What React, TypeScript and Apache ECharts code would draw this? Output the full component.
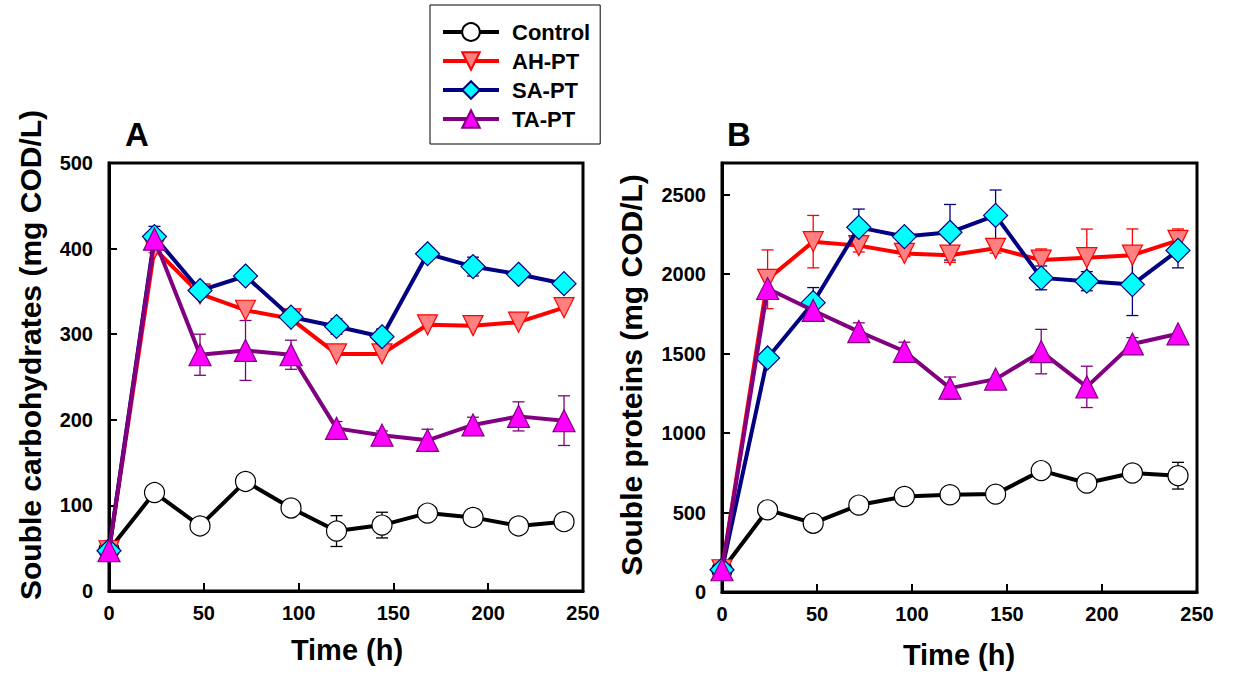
import React, { useEffect, useRef } from 'react';
import * as echarts from 'echarts';

const time = [0, 24, 48, 72, 96, 120, 144, 168, 192, 216, 240];

// Panel A: soluble carbohydrates (mg COD/L)
const ctrlA = [48, 115, 76, 128, 97, 70, 77, 91, 86, 76, 81];
const ctrlAErr = [0, 0, 0, 0, 0, 18, 15, 0, 0, 0, 0];
const ahA = [47, 400, 347, 328, 318, 277, 277, 311, 310, 314, 331];
const ahAErr = [0, 5, 0, 0, 0, 0, 0, 0, 0, 0, 0];
const saA = [47, 414, 351, 368, 320, 309, 297, 394, 379, 370, 359];
const saAErr = [0, 12, 0, 0, 0, 9, 9, 6, 11, 0, 0];
const taA = [47, 411, 276, 281, 276, 190, 182, 176, 194, 204, 199];
const taAErr = [0, 0, 24, 35, 17, 8, 5, 13, 9, 17, 29];

// Panel B: soluble proteins (mg COD/L)
const ctrlB = [137, 517, 433, 547, 601, 612, 616, 764, 686, 749, 732];
const ctrlBErr = [0, 0, 0, 20, 0, 0, 0, 0, 40, 0, 84];
const ahB = [140, 1968, 2205, 2180, 2131, 2120, 2163, 2089, 2104, 2120, 2213];
const ahBErr = [0, 185, 165, 40, 20, 45, 30, 70, 180, 165, 72];
const saB = [140, 1473, 1821, 2295, 2237, 2264, 2370, 1977, 1956, 1935, 2150];
const saBErr = [0, 0, 95, 115, 30, 175, 160, 75, 60, 195, 110];
const taB = [140, 1910, 1772, 1639, 1515, 1283, 1340, 1513, 1291, 1561, 1625];
const taBErr = [0, 0, 50, 55, 57, 70, 0, 140, 130, 40, 0];

const seriesNames = ['Control', 'AH-PT', 'SA-PT', 'TA-PT'];
const xTitle = 'Time (h)';
const yTitleA = 'Souble carbohydrates (mg COD/L)';
const yTitleB = 'Souble proteins (mg COD/L)';

const FONT = 'Arial, "Liberation Sans", Helvetica, sans-serif';

const styles = [
  { line: '#000000', fill: '#ffffff', border: '#000000', symbol: 'circle', size: 20, rotate: 0 },
  { line: '#ff0000', fill: '#ff8080', border: '#ff0000', symbol: 'triangle', size: 20, rotate: 180 },
  { line: '#000080', fill: '#00ffff', border: '#000080', symbol: 'diamond', size: 24, rotate: 0 },
  { line: '#800080', fill: '#ff00ff', border: '#800080', symbol: 'triangle', size: 22, rotate: 0 },
];

function lineSeries(idx: number, axis: number, vals: number[]) {
  const s = styles[idx];
  return {
    type: 'line',
    name: seriesNames[idx],
    xAxisIndex: axis,
    yAxisIndex: axis,
    data: time.map((t, i) => [t, vals[i]]),
    symbol: s.symbol,
    symbolSize: s.size,
    symbolRotate: s.rotate,
    showAllSymbol: true,
    lineStyle: { color: s.line, width: 4 },
    itemStyle: { color: s.fill, borderColor: s.border, borderWidth: 1.2 },
    z: 3 + idx,
  };
}

function errSeries(idx: number, axis: number, vals: number[], errs: number[]) {
  const color = styles[idx].line;
  const data = time
    .map((t, i) => [t, vals[i], errs[i]])
    .filter((d) => d[2] > 0);
  return {
    type: 'custom',
    xAxisIndex: axis,
    yAxisIndex: axis,
    data,
    encode: { x: 0, y: 1 },
    z: 2,
    silent: true,
    renderItem: (params: any, api: any) => {
      const x = api.value(0);
      const y = api.value(1);
      const e = api.value(2);
      const top = api.coord([x, y + e]);
      const bot = api.coord([x, y - e]);
      const hw = 6;
      const st = { stroke: color, lineWidth: 1.3 };
      return {
        type: 'group',
        children: [
          { type: 'line', shape: { x1: top[0], y1: top[1], x2: bot[0], y2: bot[1] }, style: st },
          { type: 'line', shape: { x1: top[0] - hw, y1: top[1], x2: top[0] + hw, y2: top[1] }, style: st },
          { type: 'line', shape: { x1: bot[0] - hw, y1: bot[1], x2: bot[0] + hw, y2: bot[1] }, style: st },
        ],
      };
    },
  };
}

const axisCommon = {
  axisLine: { show: true, lineStyle: { color: '#000', width: 3 } },
  axisTick: { show: true, inside: true, length: 8, lineStyle: { color: '#000', width: 2 } },
  splitLine: { show: false },
};

const labelStyle = {
  color: '#000',
  fontSize: 20,
  fontWeight: 'bold',
  fontFamily: FONT,
  formatter: (v: number) => String(v),
};

export default function App() {
  const ref = useRef<HTMLDivElement>(null);
  useEffect(() => {
    document.body.style.margin = '0';
    if (!ref.current) return;
    const chart = echarts.init(ref.current, null, { renderer: 'svg' });
    const option: any = {
      animation: false,
      backgroundColor: '#ffffff',
      textStyle: { fontFamily: FONT },
      legend: {
        data: seriesNames,
        orient: 'vertical',
        left: 430,
        top: 5,
        itemWidth: 56,
        itemHeight: 22,
        itemGap: 7,
        padding: [16, 10, 14, 11],
        borderColor: '#000',
        borderWidth: 1,
        lineStyle: { width: 4 },
        textStyle: { color: '#000', fontSize: 22, fontWeight: 'bold', fontFamily: FONT, padding: [0, 0, 0, 8] },
        selectedMode: false,
      },
      grid: [
        { left: 109, top: 163, width: 474, height: 428, show: true, borderColor: '#000', borderWidth: 3 },
        { left: 722, top: 163, width: 475, height: 429, show: true, borderColor: '#000', borderWidth: 3 },
      ],
      xAxis: [0, 1].map((g) => ({
        type: 'value',
        gridIndex: g,
        min: 0,
        max: 250,
        interval: 50,
        ...axisCommon,
        axisLabel: { ...labelStyle, margin: 12 },
      })),
      yAxis: [
        {
          type: 'value',
          gridIndex: 0,
          min: 0,
          max: 500,
          interval: 100,
          ...axisCommon,
          axisLabel: { ...labelStyle, margin: 16 },
        },
        {
          type: 'value',
          gridIndex: 1,
          min: 0,
          max: 2700,
          interval: 500,
          ...axisCommon,
          axisLabel: { ...labelStyle, margin: 16, showMaxLabel: false },
        },
      ],
      graphic: [
        { type: 'text', x: 137, y: 134, style: { text: 'A', fontSize: 33, fontWeight: 'bold', fontFamily: FONT, fill: '#000', textAlign: 'center', textVerticalAlign: 'middle' } },
        { type: 'text', x: 739, y: 134, style: { text: 'B', fontSize: 33, fontWeight: 'bold', fontFamily: FONT, fill: '#000', textAlign: 'center', textVerticalAlign: 'middle' } },
        { type: 'text', x: 347, y: 650, style: { text: xTitle, fontSize: 29, fontWeight: 'bold', fontFamily: FONT, fill: '#000', textAlign: 'center', textVerticalAlign: 'middle' } },
        { type: 'text', x: 959, y: 655, style: { text: xTitle, fontSize: 29, fontWeight: 'bold', fontFamily: FONT, fill: '#000', textAlign: 'center', textVerticalAlign: 'middle' } },
        { type: 'text', x: 30, y: 355, rotation: Math.PI / 2, style: { text: yTitleA, fontSize: 30, fontWeight: 'bold', fontFamily: FONT, fill: '#000', textAlign: 'center', textVerticalAlign: 'middle' } },
        { type: 'text', x: 631, y: 375, rotation: Math.PI / 2, style: { text: yTitleB, fontSize: 30, fontWeight: 'bold', fontFamily: FONT, fill: '#000', textAlign: 'center', textVerticalAlign: 'middle' } },
      ],
      series: [
        errSeries(0, 0, ctrlA, ctrlAErr),
        errSeries(1, 0, ahA, ahAErr),
        errSeries(2, 0, saA, saAErr),
        errSeries(3, 0, taA, taAErr),
        errSeries(0, 1, ctrlB, ctrlBErr),
        errSeries(1, 1, ahB, ahBErr),
        errSeries(2, 1, saB, saBErr),
        errSeries(3, 1, taB, taBErr),
        lineSeries(0, 0, ctrlA),
        lineSeries(1, 0, ahA),
        lineSeries(2, 0, saA),
        lineSeries(3, 0, taA),
        lineSeries(0, 1, ctrlB),
        lineSeries(1, 1, ahB),
        lineSeries(2, 1, saB),
        lineSeries(3, 1, taB),
      ],
    };
    chart.setOption(option);
    return () => chart.dispose();
  }, []);
  return <div ref={ref} style={{ width: 1235, height: 678 }} />;
}
